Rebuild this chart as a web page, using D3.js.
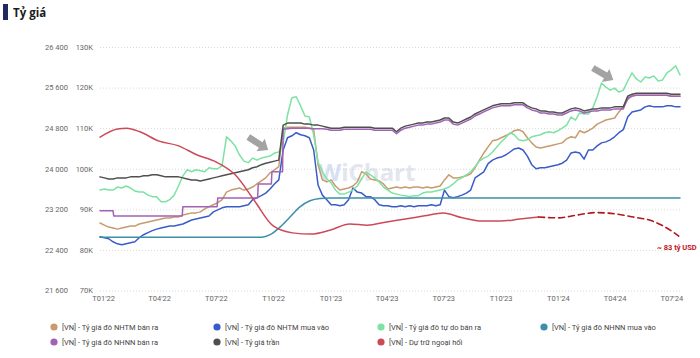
<!DOCTYPE html>
<html><head><meta charset="utf-8">
<script src="https://cdn.jsdelivr.net/npm/d3@7"></script>
<style>
body{margin:0;background:#fff;}
svg{display:block;font-family:Roboto,"Noto Sans",sans-serif;}
</style>
</head><body>
<svg id="chart" width="700" height="358"></svg>
<script>
// ---------- DATA ----------
const startDate = "2021-12-27";   // first weekly observation
const endDate = "2024-07-15";
const leftTicks = [21600, 22400, 23200, 24000, 24800, 25600, 26400];
const rightTicks = [70000, 80000, 90000, 100000, 110000, 120000, 130000];
const xTickDates = ["2022-01-01","2022-04-01","2022-07-01","2022-10-01","2023-01-01","2023-04-01","2023-07-01","2023-10-01","2024-01-01","2024-04-01","2024-07-01"];

// weekly values (VND per USD)
const nhtmSell = [
22930,22890,22850,22830,22810,22830,22850,22870,22870,22910,
22930,22950,22970,22990,23010,23030,23030,23050,23050,23090,
23110,23130,23130,23150,23210,23250,23290,23330,23390,23540,
23580,23600,23620,23580,23600,23640,23700,23760,23820,23920,
23980,24040,24800,24820,24820,24820,24820,24820,24800,24770,
24080,23780,23740,23780,23660,23580,23600,23620,23660,23740,
23940,23900,23800,23780,23760,23700,23600,23620,23640,23620,
23640,23620,23640,23640,23620,23640,23620,23640,23660,23780,
23880,23820,23820,23840,23860,23900,24020,24170,24310,24430,
24550,24570,24610,24650,24690,24750,24770,24730,24610,24510,
24430,24410,24430,24450,24470,24490,24510,24590,24630,24610,
24750,24710,24750,24800,24880,24920,24960,24980,25000,25120,
25220,25360,25450,25450,25450,25450,25450,25450,25450,25450,
25450,25430,25430,25430];

const nhtmBuy = [
22660,22640,22620,22560,22520,22500,22520,22540,22560,22640,
22700,22740,22780,22810,22830,22850,22870,22870,22890,22910,
22950,22990,23010,23030,23050,23070,23150,23190,23230,23250,
23250,23250,23250,23270,23290,23390,23430,23470,23520,23600,
23700,23780,24370,24610,24650,24710,24670,24650,24610,24370,
23680,23480,23390,23290,23290,23270,23290,23390,23620,23540,
23520,23450,23450,23390,23290,23270,23270,23250,23250,23270,
23250,23270,23250,23270,23270,23270,23290,23270,23290,23580,
23450,23430,23450,23480,23520,23580,23820,23880,23940,24100,
24170,24210,24230,24270,24330,24390,24410,24370,24250,24080,
24000,24020,24020,24040,24060,24080,24110,24170,24310,24330,
24310,24190,24370,24370,24450,24510,24530,24570,24630,24710,
24770,25020,25120,25140,25160,25220,25240,25220,25220,25220,
25240,25240,25220,25220];

const freeSell = [
23580,23600,23580,23580,23640,23620,23660,23620,23560,23540,
23540,23480,23450,23450,23350,23350,23390,23480,23660,23860,
23980,23940,23980,23960,23940,24020,24000,24000,24060,24630,
24550,24450,24270,24150,24120,24210,24170,24210,24230,24250,
24310,24330,24510,25060,25400,25420,25240,25040,25020,24670,
24130,23940,23800,23720,23580,23500,23500,23540,23580,23660,
23800,23940,23880,23820,23740,23640,23580,23520,23500,23480,
23470,23450,23470,23470,23520,23540,23540,23560,23580,23600,
23640,23700,23780,23820,23880,23940,24040,24150,24210,24250,
24330,24430,24530,24610,24710,24670,24570,24550,24570,24630,
24650,24670,24710,24730,24710,24750,24800,24860,25020,24960,
25100,25080,25080,25200,25420,25690,25610,25550,25590,25510,
25550,25730,25890,25770,25710,25810,25790,25830,25730,25750,
25890,25950,26030,25850];

const ceiling = [
23840,23820,23800,23800,23820,23820,23820,23840,23840,23840,
23860,23860,23880,23880,23860,23840,23840,23840,23840,23820,
23800,23780,23780,23760,23780,23800,23820,23840,23860,23880,
23900,23920,23940,23960,23980,24020,24040,24080,24110,24130,
24150,24170,24860,24900,24900,24900,24900,24880,24880,24860,
24860,24840,24820,24800,24800,24800,24820,24820,24820,24820,
24820,24820,24820,24800,24800,24800,24800,24800,24730,24800,
24840,24860,24880,24900,24900,24920,24920,24940,24960,25000,
25000,24920,24900,24940,24980,25020,25080,25120,25160,25200,
25240,25260,25280,25280,25280,25300,25300,25300,25240,25200,
25180,25140,25140,25120,25120,25100,25100,25140,25180,25200,
25180,25140,25160,25180,25180,25200,25200,25200,25220,25220,
25220,25430,25470,25490,25490,25490,25490,25490,25490,25490,
25490,25470,25470,25470];

// SBV selling rate: 2022 steps, then weekly from 2022-10-17
const sbvSellSteps = [
["2021-12-27",23170],["2022-01-17",23170],["2022-01-18",23070],["2022-05-08",23070],
["2022-05-09",23250],["2022-07-03",23250],["2022-07-04",23425],["2022-09-06",23425],
["2022-09-07",23700],["2022-09-28",23700],["2022-09-29",23940],["2022-10-16",23940]];
const sbvSellWeekly = [
24780,24790,24800,24800,24800,24800,24800,24790,
24790,24790,24780,24760,24760,24760,24780,24780,24780,24780,
24780,24780,24780,24760,24760,24760,24760,24760,24690,24760,
24800,24820,24840,24860,24860,24880,24880,24900,24920,24960,
24960,24880,24860,24900,24940,24980,25040,25080,25120,25160,
25200,25220,25240,25240,25240,25260,25260,25260,25200,25160,
25140,25100,25100,25080,25080,25060,25060,25100,25140,25160,
25140,25100,25120,25140,25140,25160,25160,25160,25180,25180,
25180,25390,25430,25450,25450,25450,25450,25450,25450,25450,
25450,25430,25430,25430];
const sbvSellWeeklyStart = 42;

// SBV buying rate
const sbvBuy = [
["2021-12-27",22650],["2022-09-13",22650],["2022-09-26",22700],["2022-10-12",22850],
["2022-10-28",23050],["2022-11-13",23250],["2022-11-29",23370],["2022-12-15",23415],
["2022-12-31",23425],["2024-07-15",23425]];

// FX reserves (million USD) – actual and estimate
const reserves = [
["2021-12-27",107800],["2022-01-24",109800],["2022-02-08",110000],["2022-03-01",109100],
["2022-04-01",106800],["2022-05-01",105700],["2022-06-01",103400],["2022-07-01",101700],
["2022-08-01",98500],["2022-09-01",92100],["2022-10-01",85900],["2022-11-01",84200],
["2022-12-01",83900],["2023-01-01",84900],["2023-02-01",86400],["2023-03-01",86100],
["2023-04-01",86900],["2023-05-01",87600],["2023-06-01",88400],["2023-07-01",89100],
["2023-08-01",87900],["2023-09-01",87100],["2023-10-01",87100],["2023-11-01",87600],
["2023-12-01",88100]];
const reservesEst = [
["2023-12-01",88100],["2024-01-01",87900],["2024-02-01",88600],["2024-03-01",89200],
["2024-04-01",88900],["2024-05-01",88100],["2024-06-01",87100],["2024-07-01",84700],
["2024-07-13",83400]];

const legendItems = [
 {name:"[VN] - Tỷ giá đô NHTM bán ra", color:"#c89a6e"},
 {name:"[VN] - Tỷ giá đô NHTM mua vào", color:"#3a5cc8"},
 {name:"[VN] - Tỷ giá đô tự do bán ra", color:"#7de3a4"},
 {name:"[VN] - Tỷ giá đô NHNN mua vào", color:"#3d8ea9"},
 {name:"[VN] - Tỷ giá đô NHNN bán ra", color:"#a262b6"},
 {name:"[VN] - Tỷ giá trần", color:"#4f4f4f"},
 {name:"[VN] - Dự trữ ngoại hối", color:"#cc4a58"}];

// ---------- CHART ----------
const parse = d3.timeParse("%Y-%m-%d");
const svg = d3.select("#chart");
const plotL = 100, plotR = 680, plotT = 47, plotB = 290.5;

const x = d3.scaleTime().domain([parse(startDate), parse(endDate)]).range([plotL, plotR]);
const yL = d3.scaleLinear().domain([21600, 26400]).range([plotB, plotT]);
const yR = d3.scaleLinear().domain([70000, 130000]).range([plotB, plotT]);

const weekDates = d3.range(nhtmSell.length).map(i => d3.timeDay.offset(parse(startDate), 7 * i));
const locale = d3.formatLocale({decimal: ",", thousands: " ", grouping: [3], currency: ["", ""]});
const fmtL = locale.format(",d");

// title
svg.append("rect").attr("x", 3).attr("y", 4).attr("width", 5).attr("height", 16).attr("fill", "#1f2b5e");
svg.append("text").attr("x", 13).attr("y", 17).text("Tỷ giá")
  .attr("font-family", "'Open Sans', 'Noto Sans', sans-serif").attr("font-weight", 700)
  .attr("font-size", 11.5).attr("fill", "#1b1b1b");

// gridlines
const grid = svg.append("g").attr("transform", `translate(${plotL},0)`)
  .call(d3.axisRight(yR).tickValues(rightTicks).tickSize(plotR - plotL).tickFormat(""));
grid.select(".domain").remove();
grid.selectAll("line").attr("stroke", "#d9d9d9").attr("stroke-dasharray", "1,2");

// left axes (two label columns)
function styleAxis(g){
  g.select(".domain").remove();
  g.selectAll("line").remove();
  g.selectAll("text").attr("font-size", 7.5).attr("fill", "#666")
   .attr("font-family", "Roboto, sans-serif");
}
svg.append("g").attr("transform", "translate(68,0)")
  .call(d3.axisLeft(yL).tickValues(leftTicks).tickSize(0).tickPadding(0).tickFormat(fmtL))
  .call(styleAxis);
svg.append("g").attr("transform", "translate(93,0)")
  .call(d3.axisLeft(yR).tickValues(rightTicks).tickSize(0).tickPadding(0).tickFormat(d => (d / 1000) + "K"))
  .call(styleAxis);

// x axis
const fmtMonth = d3.timeFormat("%m"), fmtYear = d3.timeFormat("%y");
svg.append("g").attr("transform", `translate(0,${plotB})`)
  .call(d3.axisBottom(x).tickValues(xTickDates.map(parse)).tickSize(0).tickPadding(5)
        .tickFormat(d => "T" + fmtMonth(d) + "'" + fmtYear(d)))
  .call(styleAxis);

// watermark
const wm = svg.append("text").attr("x", x(parse("2022-12-12"))).attr("y", yL(23760))
  .attr("font-family", "'Open Sans', sans-serif").attr("font-weight", 700).attr("font-size", 24)
  .attr("opacity", 0.55);
wm.append("tspan").text("W").attr("fill", "#b9c7ea");
wm.append("tspan").text("iChart").attr("fill", "#cdd2e2");

// lines
const lineW = d3.line().x((d, i) => x(weekDates[i])).y(d => yL(d));
const linePair = d3.line().x(d => x(d[0])).y(d => yL(d[1]));
const plot = svg.append("g").attr("fill", "none").attr("stroke-linejoin", "round").attr("stroke-linecap", "round");

plot.append("path").attr("d", lineW(nhtmSell)).attr("stroke", legendItems[0].color).attr("stroke-width", 1.5);
plot.append("path").attr("d", lineW(nhtmBuy)).attr("stroke", legendItems[1].color).attr("stroke-width", 1.5);
plot.append("path").attr("d", lineW(freeSell)).attr("stroke", legendItems[2].color).attr("stroke-width", 1.5);
plot.append("path").attr("d", linePair.curve(d3.curveMonotoneX)(sbvBuy.map(d => [parse(d[0]), d[1]])))
  .attr("stroke", legendItems[3].color).attr("stroke-width", 1.5);
linePair.curve(d3.curveLinear);
const sbvSell = sbvSellSteps.map(d => [parse(d[0]), d[1]])
  .concat(sbvSellWeekly.map((v, j) => [weekDates[sbvSellWeeklyStart + j], v]));
plot.append("path").attr("d", linePair(sbvSell)).attr("stroke", legendItems[4].color).attr("stroke-width", 1.5);
plot.append("path").attr("d", lineW(ceiling)).attr("stroke", legendItems[5].color).attr("stroke-width", 1.5);

const lineRes = d3.line().x(d => x(parse(d[0]))).y(d => yR(d[1])).curve(d3.curveMonotoneX);
plot.append("path").attr("d", lineRes(reserves)).attr("stroke", legendItems[6].color).attr("stroke-width", 1.5);
plot.append("path").attr("d", lineRes(reservesEst)).attr("stroke", "#b3161d").attr("stroke-width", 1.6)
  .attr("stroke-dasharray", "6,4");

// annotation
const lastEst = reservesEst[reservesEst.length - 1];
svg.append("text").attr("x", x(parse(lastEst[0])) + 18).attr("y", yR(lastEst[1]) + 14)
  .attr("text-anchor", "end").attr("font-size", 7.5).attr("font-weight", 700).attr("fill", "#c0141c")
  .text("~ 83 tỷ USD");

// arrows
function blockArrow(x0, y0, x1, y1) {
  const dx = x1 - x0, dy = y1 - y0, L = Math.hypot(dx, dy);
  const ux = dx / L, uy = dy / L, nx = -uy, ny = ux;
  const sw = 3.3, hw = 7.5, hl = 9;
  const bx = x1 - ux * hl, by = y1 - uy * hl;
  const p = [[x0 + nx * sw, y0 + ny * sw], [bx + nx * sw, by + ny * sw], [bx + nx * hw, by + ny * hw],
             [x1, y1], [bx - nx * hw, by - ny * hw], [bx - nx * sw, by - ny * sw], [x0 - nx * sw, y0 - ny * sw]];
  return "M" + p.map(q => q.join(",")).join("L") + "Z";
}
const arrows = [
  {from: ["2022-08-22", 24627], to: ["2022-09-23", 24371]},
  {from: ["2024-02-26", 25986], to: ["2024-03-30", 25750]}];
arrows.forEach(a => {
  svg.append("path").attr("d", blockArrow(x(parse(a.from[0])), yL(a.from[1]), x(parse(a.to[0])), yL(a.to[1])))
    .attr("fill", "#a3a3a3");
});

// legend
const legX = [54, 217, 381, 544], legY = [327, 342];
legendItems.forEach((it, i) => {
  const g = svg.append("g").attr("transform", `translate(${legX[i % 4]},${legY[Math.floor(i / 4)]})`);
  g.append("circle").attr("r", 3.6).attr("fill", it.color);
  g.append("text").attr("x", 8).attr("y", 2.7).attr("font-size", 7.5).attr("fill", "#444").text(it.name);
});
</script>
</body></html>
